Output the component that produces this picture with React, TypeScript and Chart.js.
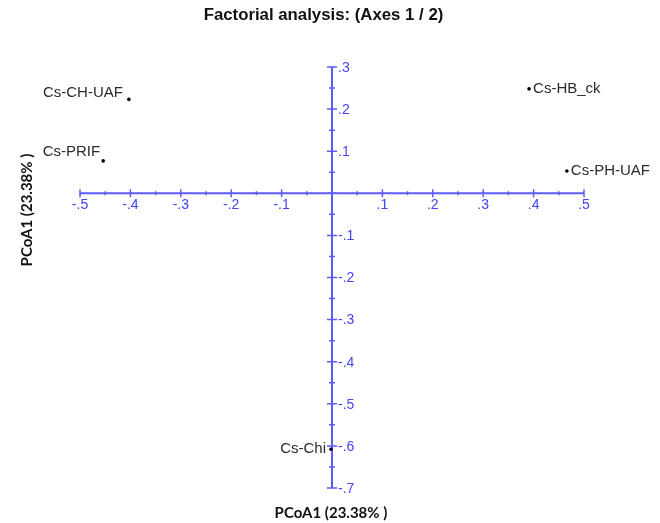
import React, { useEffect, useRef } from 'react';
import { Chart, registerables } from 'chart.js';

Chart.register(...registerables);

// ---- data ----
const samples = ['Cs-CH-UAF', 'Cs-PRIF', 'Cs-HB_ck', 'Cs-PH-UAF', 'Cs-Chi'];
const axis1Scores = [-0.403, -0.454, 0.391, 0.466, -0.002];
const axis2Scores = [0.223, 0.077, 0.248, 0.053, -0.608];

const xTickValues = [-0.5, -0.4, -0.3, -0.2, -0.1, 0.1, 0.2, 0.3, 0.4, 0.5];
const xTickLabels = ['-.5', '-.4', '-.3', '-.2', '-.1', '.1', '.2', '.3', '.4', '.5'];
const yTickValues = [0.3, 0.2, 0.1, -0.1, -0.2, -0.3, -0.4, -0.5, -0.6, -0.7];
const yTickLabels = ['.3', '.2', '.1', '-.1', '-.2', '-.3', '-.4', '-.5', '-.6', '-.7'];
const minorStep = 0.05;

const titleText = 'Factorial analysis: (Axes 1 / 2)';
const xTitleText = 'PCoA1 (23.38% )';
const yTitleText = 'PCoA1 (23.38% )';

// ---- styles ----
const AXIS_COLOR = '#5c5cf6';
const TICK_LABEL_COLOR = '#4343f4';
const POINT_LABEL_COLOR = '#2b2b2b';
// label placement per sample: [textAlign, dx, dy]
const labelPlacement: [CanvasTextAlign, number, number][] = [
  ['right', -6, -7],
  ['right', -3, -9],
  ['left', 4, 0],
  ['left', 4, 0],
  ['right', -5, 0],
];

const crossAxesPlugin = {
  id: 'crossAxes',
  beforeDatasetsDraw(chart: any) {
    const { ctx, scales } = chart;
    const xs = scales.x;
    const ys = scales.y;
    const x0 = xs.getPixelForValue(0);
    const y0 = ys.getPixelForValue(0);
    ctx.save();
    ctx.strokeStyle = AXIS_COLOR;
    ctx.lineWidth = 2;
    ctx.beginPath();
    ctx.moveTo(xs.left, y0);
    ctx.lineTo(xs.right, y0);
    ctx.moveTo(x0, ys.top);
    ctx.lineTo(x0, ys.bottom);
    ctx.stroke();

    ctx.lineWidth = 1.5;
    ctx.beginPath();
    const nx = Math.round((xs.max - xs.min) / minorStep);
    for (let i = 0; i <= nx; i++) {
      const v = xs.min + i * minorStep;
      const major = i % 2 === 0;
      const px = xs.getPixelForValue(v);
      const h = major ? 4 : 2;
      ctx.moveTo(px, y0 - h);
      ctx.lineTo(px, y0 + h);
    }
    const ny = Math.round((ys.max - ys.min) / minorStep);
    for (let i = 0; i <= ny; i++) {
      const v = ys.min + i * minorStep;
      const major = i % 2 === 0;
      const py = ys.getPixelForValue(v);
      const h = major ? 5 : 3;
      ctx.moveTo(x0 - h, py);
      ctx.lineTo(x0 + h, py);
    }
    ctx.stroke();

    ctx.fillStyle = TICK_LABEL_COLOR;
    ctx.font = '14px "Liberation Sans", Arial, sans-serif';
    ctx.textAlign = 'center';
    ctx.textBaseline = 'middle';
    xTickValues.forEach((v, i) => {
      ctx.fillText(xTickLabels[i], xs.getPixelForValue(v), y0 + 12);
    });
    ctx.textAlign = 'left';
    yTickValues.forEach((v, i) => {
      ctx.fillText(yTickLabels[i], x0 + 6, ys.getPixelForValue(v) + 1);
    });
    ctx.restore();
  },
  afterDatasetsDraw(chart: any) {
    const { ctx } = chart;
    const meta = chart.getDatasetMeta(0);
    ctx.save();
    ctx.fillStyle = POINT_LABEL_COLOR;
    ctx.font = '15px "Liberation Sans", Arial, sans-serif';
    ctx.textBaseline = 'middle';
    meta.data.forEach((el: any, i: number) => {
      const [align, dx, dy] = labelPlacement[i];
      ctx.textAlign = align;
      ctx.fillText(samples[i], el.x + dx, el.y + dy);
    });
    ctx.restore();
  },
};

export default function App() {
  const canvasRef = useRef<HTMLCanvasElement>(null);

  useEffect(() => {
    if (!canvasRef.current) return;
    const chart = new Chart(canvasRef.current, {
      type: 'scatter',
      data: {
        datasets: [
          {
            label: 'samples',
            data: axis1Scores.map((x, i) => ({ x, y: axis2Scores[i] })),
            pointRadius: 1.8,
            pointHoverRadius: 1.8,
            pointBackgroundColor: '#000',
            pointBorderWidth: 0,
          },
        ],
      },
      options: {
        responsive: false,
        animation: false,
        layout: { padding: { left: 80, right: 76, top: 67, bottom: 35 } },
        plugins: { legend: { display: false }, tooltip: { enabled: false }, title: { display: false } },
        scales: {
          x: { type: 'linear', min: -0.5, max: 0.5, display: false },
          y: { type: 'linear', min: -0.7, max: 0.3, display: false },
        },
      },
      plugins: [crossAxesPlugin],
    });
    return () => chart.destroy();
  }, []);

  const bold = { fontWeight: 700, color: '#111', whiteSpace: 'nowrap' as const };

  return (
    <div style={{ position: 'fixed', left: 0, top: 0, width: 660, height: 523, background: '#fff', overflow: 'hidden' }}>
      <canvas ref={canvasRef} width={660} height={523} style={{ position: 'absolute', left: 0, top: 0 }} />
      <div
        style={{
          ...bold,
          position: 'absolute',
          left: 0,
          width: 647,
          top: 7,
          textAlign: 'center',
          fontFamily: '"Liberation Sans", Arial, sans-serif',
          fontSize: 16.8,
          lineHeight: '16.8px',
        }}
      >
        {titleText}
      </div>
      <div
        style={{
          ...bold,
          position: 'absolute',
          left: 231,
          width: 200,
          top: 505,
          textAlign: 'center',
          fontFamily: 'Lato, "Open Sans", sans-serif',
          fontSize: 15,
          lineHeight: '15px',
        }}
      >
        {xTitleText}
      </div>
      <div
        style={{
          ...bold,
          position: 'absolute',
          left: 26 - 100,
          top: 210 - 10,
          width: 200,
          height: 20,
          lineHeight: '20px',
          textAlign: 'center',
          fontFamily: 'Lato, "Open Sans", sans-serif',
          fontSize: 15,
          transform: 'rotate(-90deg)',
          transformOrigin: 'center center',
        }}
      >
        {yTitleText}
      </div>
    </div>
  );
}
